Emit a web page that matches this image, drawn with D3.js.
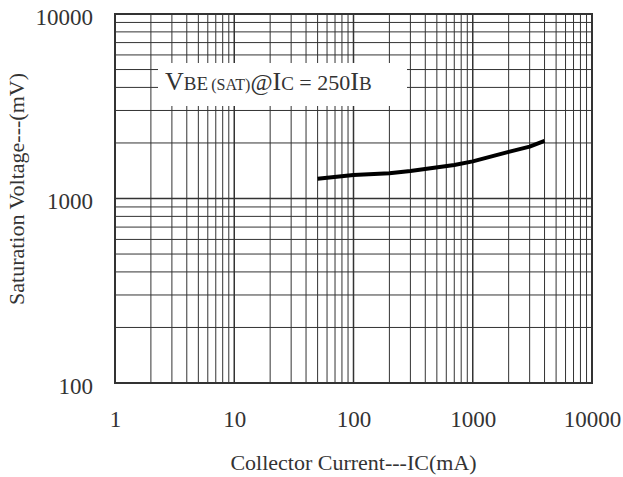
<!DOCTYPE html>
<html>
<head>
<meta charset="utf-8">
<script src="https://cdn.jsdelivr.net/npm/d3@7"></script>
<style>
  body { margin: 0; background: #fff; }
  text { font-family: "Liberation Serif", "DejaVu Serif", serif; fill: #333; }
</style>
</head>
<body>
<svg id="chart"></svg>
<script>
// collector current (mA) vs VBE(sat) (mV)
const currents = [50, 100, 200, 300, 700, 1000, 2000, 3000, 4000];
const voltages = [1280, 1340, 1370, 1410, 1520, 1590, 1790, 1910, 2050];

const xTicks = [1, 10, 100, 1000, 10000];
const yTicks = [100, 1000, 10000];

const margin = { top: 14, right: 31, bottom: 94, left: 115 },
  width = 623 - margin.left - margin.right,
  height = 477 - margin.top - margin.bottom;

const svg = d3
  .select("#chart")
  .attr("width", 623)
  .attr("height", 477);

const g = svg
  .append("g")
  .attr("transform", `translate(${margin.left},${margin.top})`);

const xScale = d3.scaleLog().domain([1, 10000]).range([0, width]);
const yScale = d3.scaleLog().domain([100, 10000]).range([height, 0]);

// minor + major grid values
let xGrid = [];
for (let e = 0; e < 4; e++) {
  for (let k = 1; k < 10; k++) xGrid.push(k * Math.pow(10, e));
}
xGrid.push(10000);
let yGrid = [];
for (let e = 2; e < 4; e++) {
  for (let k = 1; k < 10; k++) yGrid.push(k * Math.pow(10, e));
}
yGrid.push(10000);

g.append("g")
  .selectAll("line")
  .data(xGrid)
  .join("line")
  .attr("x1", (d) => xScale(d))
  .attr("x2", (d) => xScale(d))
  .attr("y1", 0)
  .attr("y2", height)
  .attr("stroke", "#333")
  .attr("stroke-width", (d) => (xTicks.includes(d) ? 1.5 : 1));

g.append("g")
  .selectAll("line")
  .data(yGrid)
  .join("line")
  .attr("x1", 0)
  .attr("x2", width)
  .attr("y1", (d) => yScale(d))
  .attr("y2", (d) => yScale(d))
  .attr("stroke", "#333")
  .attr("stroke-width", (d) => (yTicks.includes(d) ? 1.5 : 1));

// frame
g.append("rect")
  .attr("width", width)
  .attr("height", height)
  .attr("fill", "none")
  .attr("stroke", "#333")
  .attr("stroke-width", 2);

// axes (labels only, lines hidden)
const xAxis = g
  .append("g")
  .attr("transform", `translate(0,${height})`)
  .style("color", "#333")
  .call(d3.axisBottom(xScale).tickValues(xTicks).tickFormat(d3.format("d")).tickSize(0).tickPadding(28));
xAxis.select(".domain").remove();
xAxis.selectAll("text").style("font-size", "23px").style("font-family", "Liberation Serif");

const yAxis = g
  .append("g")
  .style("color", "#333")
  .call(d3.axisLeft(yScale).tickValues(yTicks).tickFormat(d3.format("d")).tickSize(0).tickPadding(22));
yAxis.select(".domain").remove();
yAxis.selectAll("text").style("font-size", "23px").style("font-family", "Liberation Serif").attr("dy", "0.45em");

// legend box
const legend = g.append("g");
legend
  .append("rect")
  .attr("x", 158 - margin.left)
  .attr("y", 63 - margin.top)
  .attr("width", 249)
  .attr("height", 43)
  .attr("fill", "#fff");

const label = legend
  .append("text")
  .attr("x", 165 - margin.left)
  .attr("y", 90 - margin.top);
const parts = [
  ["V", 26],
  ["BE", 19],
  ["\u2009(SAT)", 16],
  ["@", 24],
  ["I", 26],
  ["C", 19],
  [" = 250", 22],
  ["I", 26],
  ["B", 19],
];
parts.forEach(([t, s]) => {
  label.append("tspan").style("font-size", s + "px").text(t);
});

// curve
const line = d3
  .line()
  .x((d, i) => xScale(currents[i]))
  .y((d) => yScale(d));

g.append("path")
  .datum(voltages)
  .attr("d", line)
  .attr("fill", "none")
  .attr("stroke", "#000")
  .attr("stroke-width", 4)
  .attr("stroke-linejoin", "round");

// axis titles
svg
  .append("text")
  .attr("x", margin.left + width / 2)
  .attr("y", 470)
  .attr("text-anchor", "middle")
  .style("font-size", "22px")
  .text("Collector Current---IC(mA)");

svg
  .append("text")
  .attr("transform", "translate(24,189) rotate(-90)")
  .attr("text-anchor", "middle")
  .style("font-size", "22px")
  .text("Saturation Voltage---(mV)");
</script>
</body>
</html>
